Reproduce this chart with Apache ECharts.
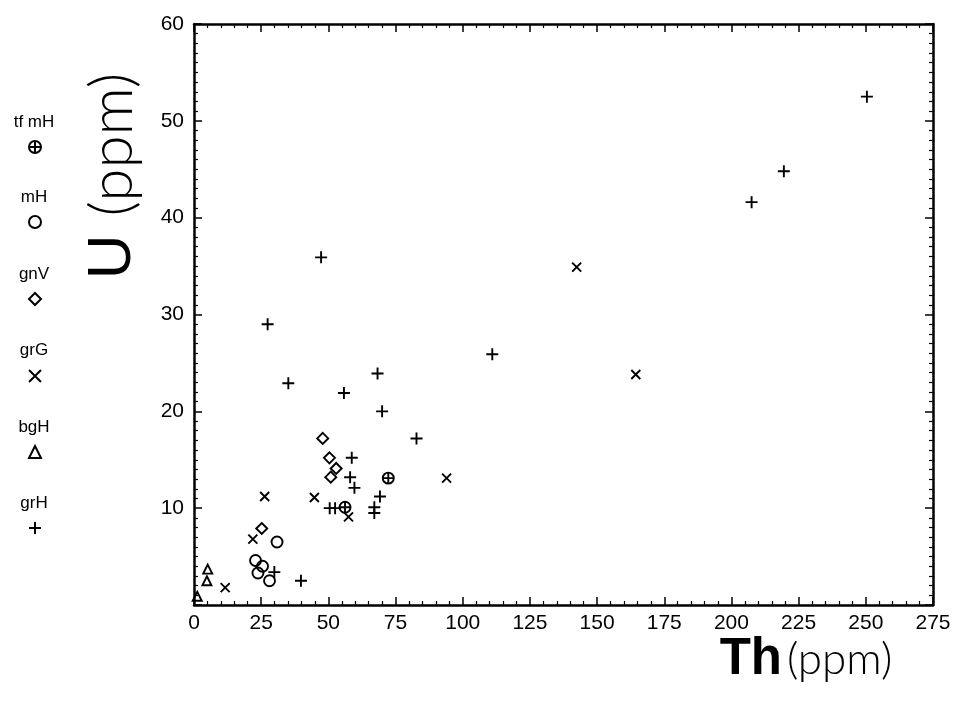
<!DOCTYPE html>
<html><head><meta charset="utf-8">
<script src="https://cdn.jsdelivr.net/npm/echarts@6/dist/echarts.min.js"></script>
<style>html,body{margin:0;padding:0;background:#fff}#c{width:958px;height:710px}</style>
</head><body><div id="c"></div>
<script>
// ---- data (Th ppm, U ppm) ----
const seriesNames = ['tf mH', 'mH', 'gnV', 'grG', 'bgH', 'grH'];
const tfmH = [[72.3, 13.1], [56.2, 10.1]];
const mH = [[30.9, 6.5], [22.9, 4.6], [23.8, 3.3], [25.5, 4.0], [28.1, 2.5]];
const gnV = [[47.9, 17.2], [50.4, 15.2], [52.9, 14.1], [50.9, 13.2], [25.2, 7.9]];
const grG = [[142.4, 34.9], [164.4, 23.8], [94, 13.1], [26.3, 11.2], [44.8, 11.1], [57.5, 9.1], [21.9, 6.8], [11.6, 1.8]];
const bgH = [[5.1, 3.7], [4.8, 2.5], [1.2, 0.9]];
const grH = [[250.4, 52.5], [219.5, 44.8], [207.5, 41.6], [111, 25.9], [47.3, 35.9], [27.4, 29.0], [68.3, 23.9], [35.1, 22.9], [55.8, 21.9], [70, 20.0], [82.8, 17.2], [58.7, 15.2], [58.1, 13.2], [59.7, 12.1], [69.2, 11.2], [50.5, 10], [52.5, 10], [67.1, 10.1], [67.1, 9.5], [29.9, 3.4], [39.8, 2.5]];
const xTickLabels = [0, 25, 50, 75, 100, 125, 150, 175, 200, 225, 250, 275];
const yTickLabels = [10, 20, 30, 40, 50, 60];

const seriesData = [tfmH, mH, gnV, grG, bgH, grH];
const symbols = [
  'path://M0,5A5,5,0,1,1,10,5A5,5,0,1,1,0,5ZM5,0L5,10M0,5L10,5',
  'circle',
  'diamond',
  'path://M0,0L10,10M10,0L0,10',
  'triangle',
  'path://M5,0L5,10M0,5L10,5'
];
const sizes = [11, 11, 11, 9, 9, 12];
const legendLabelY = [122, 197, 274, 350, 427, 503];
const legendIconY = [146, 221, 298, 375, 451, 527];

const chart = echarts.init(document.getElementById('c'), null, {renderer: 'canvas'});
const ax = (pos, showLabel, isX) => ({
  type: 'value', position: pos,
  min: 0, max: isX ? 275 : 60, interval: isX ? 25 : 10,
  axisLine: {show: true, onZero: false, lineStyle: {color: '#000', width: 2.5}},
  axisTick: {show: true, inside: true, length: 8, lineStyle: {color: '#000', width: 1.5}},
  minorTick: {show: true, splitNumber: isX ? 5 : 10, length: 4, lineStyle: {color: '#000', width: 1.2}},
  splitLine: {show: false}, minorSplitLine: {show: false},
  axisLabel: {
    show: showLabel, color: '#000', fontSize: 21, margin: isX ? 8 : 10,
    fontFamily: isX ? '"Liberation Sans Narrow", "Liberation Sans", Arial, sans-serif' : '"Liberation Sans", Arial, sans-serif',
    formatter: v => (isX ? (xTickLabels.includes(v) ? String(v) : '') : (yTickLabels.includes(v) ? String(v) : ''))
  }
});

const option = {
  backgroundColor: '#fff',
  animation: false,
  grid: {left: 194, right: 25, top: 24, bottom: 105},
  xAxis: [ax('bottom', true, true), ax('top', false, true)],
  yAxis: [ax('left', true, false), ax('right', false, false)],
  legend: seriesNames.map((n, i) => ({
    data: [n], orient: 'vertical', left: 28, top: legendIconY[i] - 6, padding: 0,
    itemWidth: 12, itemHeight: 12, itemGap: 0, selectedMode: false,
    formatter: () => '', textStyle: {fontSize: 1}
  })),
  series: seriesNames.map((n, i) => ({
    name: n, type: 'scatter', xAxisIndex: 0, yAxisIndex: 0,
    data: seriesData[i], symbol: symbols[i], symbolSize: sizes[i],
    itemStyle: {color: 'transparent', borderColor: '#000', borderWidth: 1.9, opacity: 1},
    emphasis: {disabled: true}
  })),
  graphic: [
    ...seriesNames.map((n, i) => ({
      type: 'text', x: 34, y: legendLabelY[i],
      style: {text: n, fill: '#000', font: '17px "Liberation Sans", Arial, sans-serif', align: 'center', verticalAlign: 'middle'}
    })),
    {
      type: 'text', x: 113, y: 176, rotation: Math.PI / 2,
      style: {
        text: '{a|U}{b|(ppm)}', align: 'center', verticalAlign: 'middle', fill: '#000',
        rich: {
          a: {fontSize: 62, fontFamily: '"Liberation Sans", Arial, sans-serif', fill: '#000'},
          b: {fontSize: 60, fontWeight: 300, padding: [0, 0, 0, 18], fontFamily: 'Lato, "Open Sans", "Liberation Sans", sans-serif', fill: '#000'}
        }
      }
    },
    {
      type: 'text', x: 806, y: 660,
      style: {
        text: '{a|Th}{b|(ppm)}', align: 'center', verticalAlign: 'middle', fill: '#000',
        rich: {
          a: {fontSize: 51, fontWeight: 'bold', fontFamily: '"Liberation Sans", Arial, sans-serif', fill: '#000'},
          b: {fontSize: 44, fontWeight: 300, padding: [0, 0, 0, 5], fontFamily: 'Lato, "Open Sans", "Liberation Sans", sans-serif', fill: '#000'}
        }
      }
    }
  ]
};
chart.setOption(option);
</script></body></html>
